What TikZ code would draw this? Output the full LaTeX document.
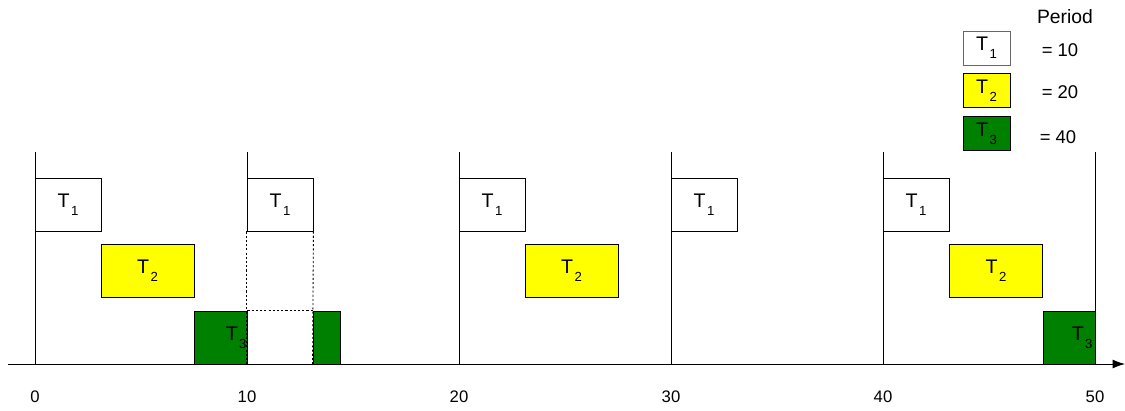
\documentclass[tikz,border=0pt]{standalone}
\usepackage{fontspec}
\setmainfont{Liberation Sans}
\usetikzlibrary{arrows.meta}
\definecolor{jobyellow}{RGB}{255,255,0}
\definecolor{jobgreen}{RGB}{0,128,0}
\newcommand{\tsk}[1]{T\kern0.8pt\raisebox{-0.8ex}{\fontsize{7.5}{8}\selectfont #1}}
\tikzset{
  job/.style={draw, line width=0.5pt, inner sep=0pt, minimum height=53*0.02cm, font=\fontsize{11.2}{13}\selectfont},
  legendjob/.style={job, minimum width=47*0.02cm, minimum height=34*0.02cm},
  dotline/.style={line width=0.5pt, dash pattern=on 1.2pt off 1.2pt},
  lbl/.style={font=\fontsize{10.5}{12}\selectfont, inner sep=0pt},
  ticklbl/.style={font=\fontsize{9.5}{11}\selectfont, inner sep=0pt}
}
\begin{document}
\begin{tikzpicture}[x=0.02cm, y=-0.02cm]
            \useasboundingbox (0,0) rectangle (1125,410);
            % Define nodes
            \node[job, minimum width=66*0.02cm] (a1) at (68,204.5) {\tsk{1}};
            \node[job, minimum width=66*0.02cm] (b1) at (280,204.5) {\tsk{1}};
            \node[job, minimum width=66*0.02cm] (c1) at (492,204.5) {\tsk{1}};
            \node[job, minimum width=66*0.02cm] (d1) at (704,204.5) {\tsk{1}};
            \node[job, minimum width=66*0.02cm] (e1) at (916,204.5) {\tsk{1}};
            \node[job, fill=jobyellow, minimum width=93*0.02cm] (a2) at (147.5,270.5) {\tsk{2}};
            \node[job, fill=jobyellow, minimum width=93*0.02cm] (c2) at (571.5,270.5) {\tsk{2}};
            \node[job, fill=jobyellow, minimum width=93*0.02cm] (e2) at (996,270.5) {\tsk{2}};
            \node[job, fill=jobgreen, minimum width=53*0.02cm] (a3) at (220.5,337.5) {};
            \node[job, fill=jobgreen, minimum width=27*0.02cm] (b3) at (326.5,337.5) {};
            \node[job, fill=jobgreen, minimum width=52*0.02cm] (e3) at (1069,337.5) {};
            \node[job, draw=none, anchor=east] (a3t) at (247,337.5) {\tsk{3}};
            \node[job, draw=none, anchor=east] (e3t) at (1093,337.5) {\tsk{3}};

            % Time axis
            \coordinate (o) at (8,364);
            \coordinate (end) at (1125,364);
            \draw[line width=0.5pt, -{Latex[length=7pt, width=5pt]}] (o) -- (end);
            \foreach \t/\x in {0/35, 10/247, 20/459, 30/671, 40/883, 50/1095}
              \node[ticklbl] (tick\t) at (\x,397) {\t};
            \draw[line width=0.5pt] (35,152) -- (35,364);
            \draw[line width=0.5pt] (247,152) -- (247,178);
            \draw[line width=0.5pt] (459,152) -- (459,364);
            \draw[line width=0.5pt] (671,152) -- (671,364);
            \draw[line width=0.5pt] (883,152) -- (883,364);
            \draw[line width=0.5pt] (1095,152) -- (1095,364);

            % Preempted part of T3
            \draw[dotline] (b1.south west) -- (a3.south east -| b1.south west);
            \draw[dotline] (b1.south east) -- (b3.south west);
            \draw[dotline] (a3.north east) -- (b3.north west);

            % Legend
            \node[lbl, font=\fontsize{11}{13}\selectfont] (period) at (1065,17) {Period};
            \node[legendjob, draw=black!60] (l1) at (986.5,48) {\tsk{1}};
            \node[legendjob, fill=jobyellow] (l2) at (986.5,90.5) {\tsk{2}};
            \node[legendjob, fill=jobgreen] (l3) at (986.5,133.5) {\tsk{3}};
            \node[lbl] (p1) at (1060,50) {= 10};
            \node[lbl] (p2) at (1060,92) {= 20};
            \node[lbl] (p3) at (1058,137) {= 40};

        \end{tikzpicture}
\end{document}
